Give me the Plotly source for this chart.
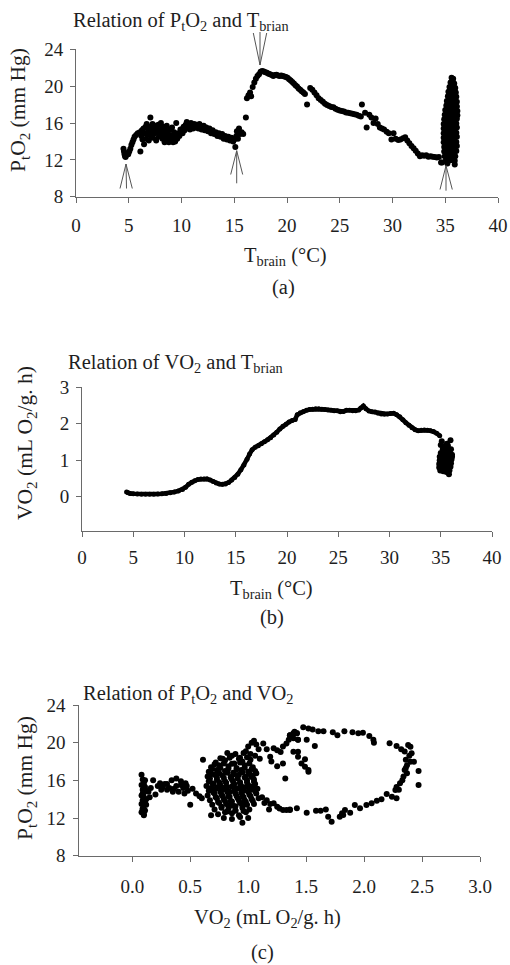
import plotly.graph_objects as go

W, H = 510, 965
FONT = "Liberation Serif"
TXT = "#1e1e1e"
AX = "#6a6a6a"

# ---------------- Panel (a): PtO2 vs Tbrain ----------------
a1_T = [4.5, 4.55, 4.6, 4.65, 4.7, 4.75, 4.85, 4.95, 5.05, 5.15, 5.25, 5.35, 5.45, 5.55, 5.7, 5.85]
a1_P = [13.2, 12.9, 12.6, 12.4, 12.3, 12.5, 12.7, 12.6, 12.9, 13.2, 13.6, 13.9, 14.2, 14.5, 14.7, 14.9]

a2_T = [6.05, 6.1, 6.2, 6.25, 6.3, 6.4, 6.45, 6.5, 6.6, 6.65, 6.7, 6.8, 6.85, 6.9, 7.0,
        7.05, 7.1, 7.2, 7.25, 7.3, 7.4, 7.45, 7.5, 7.6, 7.65, 7.7, 7.8, 7.85, 7.9, 8.0,
        8.05, 8.1, 8.2, 8.25, 8.3, 8.4, 8.45, 8.5, 8.6, 8.65, 8.7, 8.8, 8.85, 8.9, 9.0,
        9.05, 9.1, 9.2, 9.25, 9.3, 9.4, 9.45, 9.5, 9.6, 9.7, 9.8, 9.9]
a2_P = [15.0, 12.9, 14.6, 15.2, 14.2, 15.4, 13.7, 14.9, 15.6, 14.3, 15.9, 14.8, 15.3, 14.1, 15.6,
        16.6, 14.6, 15.1, 15.9, 14.4, 15.3, 14.9, 15.7, 14.1, 15.4, 15.0, 15.8, 14.5, 15.2, 14.7,
        16.0, 15.3, 14.3, 15.6, 14.9, 13.9, 15.2, 14.5, 15.7, 14.2, 15.0, 13.9, 14.7, 15.3, 14.1,
        14.6, 15.5, 13.9, 14.4, 15.0, 14.0, 14.8, 16.0, 14.3, 14.9, 14.6, 15.3]

a3_T = [10.0, 10.1, 10.2, 10.3, 10.4, 10.5, 10.6, 10.7, 10.8, 10.9, 11.0,
        11.1, 11.2, 11.3, 11.4, 11.5, 11.6, 11.7, 11.8, 11.9, 12.0, 12.1, 12.2,
        12.35, 12.5, 12.65, 12.8, 12.95, 13.1, 13.25, 13.4, 13.55, 13.7,
        13.85, 14.0, 14.15, 14.3, 14.45, 14.6, 14.75, 14.9, 15.0, 15.1,
        15.2, 15.25, 15.35, 15.45, 15.55, 15.7, 15.85, 16.1]
a3_P = [15.3, 14.9, 15.6, 15.2, 15.8, 16.1, 15.5, 15.9, 15.3, 16.0, 15.6,
        15.4, 15.9, 15.5, 15.8, 15.7, 15.4, 15.9, 15.6, 15.3, 15.5, 15.7, 15.2,
        15.5, 15.1, 15.4, 14.9, 15.2, 14.8, 15.0, 14.6, 14.9, 14.5,
        14.8, 14.3, 14.6, 14.2, 14.5, 14.1, 14.4, 14.0, 14.2, 13.4,
        14.6, 15.1, 14.3, 15.4, 14.8, 15.0, 14.8, 16.6]

a4_T = [16.2, 16.35, 16.5, 16.6, 16.75, 16.9, 17.05, 17.2, 17.35, 17.5,
        17.65, 17.8, 17.95, 18.1, 18.25, 18.4, 18.55, 18.7, 18.85, 19.0,
        19.15, 19.3, 19.45, 19.6, 19.75, 19.9, 20.05, 20.2, 20.35, 20.5,
        20.65, 20.8, 20.95, 21.1, 21.25, 21.4, 21.55, 21.7, 21.9, 22.2,
        22.4, 22.6, 22.8, 23.0, 23.2, 23.4, 23.6, 23.8, 24.0, 24.2,
        24.4, 24.6, 24.8, 25.0, 25.2, 25.4, 25.6, 25.8, 26.0, 26.2,
        26.4, 26.6, 26.8, 27.0, 27.1, 27.4, 27.55, 27.8, 28.0, 28.2,
        28.4, 28.6, 28.8, 29.0, 29.2, 29.45, 29.65, 29.9, 30.1, 30.3,
        30.55, 30.75, 31.0, 31.2, 31.4, 31.6, 31.8, 32.0, 32.2, 32.4,
        32.6, 32.8, 33.0, 33.2, 33.4, 33.6, 33.8, 34.0, 34.2, 34.4, 34.6]
a4_P = [18.7, 19.0, 19.3, 18.9, 19.9, 20.4, 20.8, 21.1, 21.3, 21.55,
        21.65, 21.6, 21.5, 21.45, 21.35, 21.3, 21.2, 21.1, 21.2, 21.25,
        21.15, 21.1, 21.15, 21.1, 21.05, 21.0, 20.9, 20.75, 20.6, 20.45,
        20.3, 20.1, 19.95, 19.75, 19.6, 19.45, 19.3, 19.15, 18.0, 19.8,
        19.6, 19.3, 19.0, 18.7, 18.5, 18.3, 18.1, 17.95, 17.85, 17.75,
        17.7, 17.55, 17.45, 17.35, 17.3, 17.25, 17.15, 17.1, 17.05, 17.0,
        16.95, 16.9, 16.8, 16.7, 18.0, 17.1, 15.5, 16.9, 16.6, 16.0,
        16.5, 15.9, 15.5, 15.4, 15.3, 15.05, 14.9, 14.2, 14.9, 14.3,
        14.15, 14.2, 14.35, 14.45, 14.1, 13.8, 13.5, 13.25, 13.0, 12.7,
        12.4, 12.5, 12.45, 12.5, 12.35, 12.4, 12.35, 12.3, 12.25, 12.3, 11.7]

acl_T = [35.6, 35.75, 35.5, 35.7, 35.85, 35.4, 35.6, 35.8, 35.95,
         35.3, 35.5, 35.7, 35.9, 36.0, 35.25, 35.45, 35.65, 35.85, 36.05,
         35.15, 35.35, 35.55, 35.75, 35.95, 36.1, 35.1, 35.3, 35.5, 35.7, 35.9, 36.1,
         35.0, 35.2, 35.4, 35.6, 35.8, 36.0, 36.15, 34.95, 35.15, 35.35, 35.55, 35.75, 35.95, 36.15,
         34.9, 35.1, 35.3, 35.5, 35.7, 35.9, 36.1, 34.85, 35.05, 35.25, 35.45, 35.65, 35.85, 36.05,
         34.85, 35.05, 35.25, 35.45, 35.65, 35.85, 36.1, 34.85, 35.05, 35.25, 35.45, 35.65, 35.85, 36.05,
         34.85, 35.05, 35.25, 35.45, 35.65, 35.85, 36.1, 34.85, 35.05, 35.25, 35.45, 35.65, 35.85, 36.05,
         34.9, 35.1, 35.3, 35.5, 35.7, 35.9, 36.1, 34.9, 35.1, 35.3, 35.5, 35.7, 35.9, 36.05,
         34.95, 35.15, 35.35, 35.55, 35.75, 35.95, 35.05, 35.3, 35.5, 35.7, 35.9, 34.7, 35.2, 35.9]
acl_P = [20.9, 20.8, 20.4, 20.5, 20.3, 19.9, 20.0, 19.95, 19.8,
         19.4, 19.6, 19.5, 19.4, 19.3, 18.9, 19.0, 18.95, 19.05, 18.85,
         18.4, 18.5, 18.45, 18.55, 18.4, 18.3, 17.9, 18.0, 17.95, 18.05, 17.9, 17.8,
         17.4, 17.5, 17.45, 17.55, 17.5, 17.4, 17.3, 16.9, 17.0, 16.95, 17.05, 17.0, 16.9, 16.85,
         16.4, 16.5, 16.45, 16.55, 16.5, 16.4, 16.45, 15.9, 16.0, 15.95, 16.05, 16.0, 15.9, 15.95,
         15.4, 15.5, 15.45, 15.55, 15.5, 15.4, 15.5, 14.9, 15.0, 14.95, 15.05, 15.0, 14.9, 14.95,
         14.4, 14.5, 14.45, 14.55, 14.5, 14.4, 14.5, 13.9, 14.0, 13.95, 14.05, 14.0, 13.9, 13.95,
         13.4, 13.5, 13.45, 13.55, 13.5, 13.4, 13.5, 12.9, 13.0, 12.95, 13.05, 13.0, 12.9, 12.95,
         12.4, 12.5, 12.45, 12.55, 12.5, 12.4, 11.9, 12.0, 11.95, 12.05, 11.9, 11.7, 11.6, 11.5]

# ---------------- Panel (b): VO2 vs Tbrain ----------------
b_T = [4.35, 4.5, 4.7, 5.0, 5.4, 5.8, 6.2, 6.6, 7.0, 7.4, 7.8, 8.2, 8.6, 9.0, 9.4,
       9.8, 10.1, 10.4, 10.7, 11.0, 11.3, 11.6, 11.9, 12.2, 12.5, 12.8, 13.1, 13.4, 13.7, 14.0,
       14.3, 14.6, 14.9, 15.2, 15.5, 15.8, 16.1, 16.35, 16.6, 16.9, 17.2, 17.5, 17.8, 18.1, 18.4,
       18.7, 19.0, 19.3, 19.6, 19.9, 20.2, 20.5, 20.8, 21.0, 21.3, 21.6, 21.9, 22.2, 22.5, 22.8,
       23.1, 23.4, 23.7, 24.0, 24.3, 24.6, 24.9, 25.2, 25.5, 25.8, 26.1, 26.4, 26.7, 27.0, 27.2,
       27.45, 27.7, 28.0, 28.3, 28.6, 28.9, 29.2, 29.5, 29.8, 30.1, 30.4, 30.7, 31.0, 31.3, 31.6,
       31.9, 32.2, 32.5, 32.8, 33.1, 33.4, 33.7, 34.0, 34.3, 34.6, 34.9]
b_V = [0.13, 0.11, 0.09, 0.08, 0.075, 0.07, 0.07, 0.07, 0.07, 0.075, 0.08, 0.09, 0.11, 0.13, 0.16,
       0.2, 0.26, 0.34, 0.40, 0.44, 0.47, 0.485, 0.49, 0.49, 0.46, 0.42, 0.38, 0.35, 0.34, 0.35,
       0.39, 0.46, 0.53, 0.62, 0.74, 0.87, 1.03, 1.17, 1.29, 1.36, 1.4, 1.45, 1.51, 1.56, 1.62,
       1.69, 1.77, 1.86, 1.93, 1.99, 2.05, 2.09, 2.12, 2.25, 2.3, 2.34, 2.37, 2.39, 2.4, 2.41,
       2.41, 2.4, 2.39, 2.38, 2.37, 2.36, 2.36, 2.33, 2.34, 2.37, 2.37, 2.36, 2.36, 2.38, 2.43,
       2.49, 2.41, 2.35, 2.33, 2.32, 2.29, 2.27, 2.26, 2.27, 2.28, 2.29, 2.25, 2.19, 2.11, 2.03,
       1.96, 1.89, 1.84, 1.81, 1.82, 1.83, 1.82, 1.81, 1.79, 1.74, 1.67]

bcl_T = [35.1, 35.6, 35.95, 35.0, 35.3, 35.7, 35.2, 35.5, 35.8, 36.0,
         35.0, 35.3, 35.6, 35.9, 36.1, 34.9, 35.2, 35.5, 35.8, 36.1,
         34.9, 35.15, 35.45, 35.75, 36.05, 34.85, 35.1, 35.4, 35.7, 36.0,
         34.85, 35.1, 35.4, 35.7, 35.95, 34.95, 35.25, 35.55, 35.85, 35.8]
bcl_V = [1.52, 1.45, 1.55, 1.42, 1.38, 1.4, 1.3, 1.32, 1.28, 1.3,
         1.2, 1.22, 1.18, 1.2, 1.15, 1.1, 1.12, 1.08, 1.1, 1.1,
         1.0, 1.02, 0.98, 1.0, 1.02, 0.9, 0.92, 0.88, 0.9, 0.92,
         0.8, 0.82, 0.78, 0.8, 0.82, 0.72, 0.7, 0.68, 0.72, 0.62]

# ---------------- Panel (c): PtO2 vs VO2 ----------------
c1_V = [0.08, 0.09, 0.1, 0.08, 0.11, 0.09, 0.1, 0.12, 0.08, 0.1, 0.09, 0.11, 0.08,
        0.1, 0.12, 0.09, 0.11, 0.08, 0.1, 0.09, 0.12, 0.1, 0.11, 0.09, 0.1]
c1_P = [16.6, 16.1, 15.8, 15.5, 15.3, 15.0, 14.7, 14.9, 14.4, 14.2, 13.9, 13.7, 13.5,
        13.3, 14.0, 13.0, 12.8, 12.6, 12.4, 12.9, 13.4, 15.5, 16.0, 14.6, 12.3]

c2_V = [0.14, 0.16, 0.18, 0.2, 0.22, 0.24, 0.26, 0.28, 0.3, 0.32, 0.34, 0.36, 0.38, 0.4, 0.42,
        0.44, 0.46, 0.48, 0.5, 0.52, 0.55, 0.58, 0.6, 0.15, 0.25, 0.35, 0.38, 0.42, 0.45, 0.47,
        0.3, 0.61]
c2_P = [14.8, 15.2, 16.0, 14.5, 15.4, 15.7, 15.3, 15.6, 15.6, 15.2, 16.0, 15.1, 15.4, 14.8, 15.5,
        15.2, 15.7, 14.9, 13.4, 15.1, 14.6, 14.3, 14.1, 14.2, 15.0, 14.8, 16.2, 15.9, 14.6, 15.4,
        15.0, 18.2]

c3_V = [0.78, 0.86, 0.93, 0.72, 0.80, 0.88, 0.95, 1.02, 0.68, 0.75, 0.83, 0.90, 0.97, 1.04,
        0.66, 0.73, 0.80, 0.87, 0.94, 1.00, 1.06, 0.65, 0.71, 0.78, 0.85, 0.92, 0.98, 1.04,
        0.66, 0.73, 0.80, 0.86, 0.93, 0.99, 1.05, 0.64, 0.70, 0.76, 0.82, 0.88, 0.94, 1.00, 1.06,
        0.66, 0.72, 0.78, 0.84, 0.90, 0.96, 1.02, 1.08, 0.65, 0.71, 0.77, 0.83, 0.89, 0.95, 1.01, 1.07,
        0.67, 0.73, 0.79, 0.85, 0.91, 0.97, 1.03, 1.09, 0.69, 0.75, 0.81, 0.87, 0.93, 0.99, 1.05,
        0.71, 0.77, 0.83, 0.89, 0.95, 1.01, 0.74, 0.80, 0.86, 0.92, 0.98, 0.79, 0.86, 0.93, 1.00,
        0.95, 0.68]
c3_P = [18.3, 18.6, 18.4, 17.9, 18.1, 17.8, 18.0, 18.2, 17.4, 17.6, 17.5, 17.3, 17.6, 17.4,
        16.9, 17.1, 17.0, 16.8, 17.1, 16.9, 17.0, 16.4, 16.6, 16.5, 16.3, 16.6, 16.4, 16.5,
        15.9, 16.1, 15.9, 16.1, 15.8, 16.0, 16.1, 15.4, 15.6, 15.5, 15.3, 15.6, 15.4, 15.5, 15.6,
        14.9, 15.1, 15.0, 14.8, 15.1, 14.9, 15.0, 15.1, 14.4, 14.6, 14.5, 14.3, 14.6, 14.4, 14.5, 14.6,
        13.9, 14.1, 14.0, 13.8, 14.1, 13.9, 14.0, 14.1, 13.4, 13.6, 13.5, 13.3, 13.6, 13.4, 13.5,
        12.9, 13.1, 13.0, 12.8, 13.1, 12.9, 12.4, 12.6, 12.5, 12.3, 12.6, 12.0, 11.9, 12.1, 12.0,
        11.5, 12.3]

# second, offset set of readings inside the dense cluster of panel (c)
c3c_V = [0.82, 0.89, 0.76, 0.84, 0.92, 0.99, 0.71, 0.79, 0.86, 0.93, 1.01, 0.69, 0.76, 0.83, 0.9,
         0.97, 1.03, 0.68, 0.75, 0.82, 0.88, 0.95, 1.01, 1.07, 0.67, 0.73, 0.79, 0.85, 0.91, 0.97,
         1.03, 0.69, 0.75, 0.81, 0.87, 0.93, 0.99, 1.05, 0.68, 0.74, 0.8, 0.86, 0.92, 0.98, 1.04,
         0.7, 0.76, 0.82, 0.88, 0.94, 1.0, 1.06, 0.72, 0.78, 0.84, 0.9, 0.96, 1.02, 0.74, 0.8,
         0.86, 0.92, 0.98, 1.04, 0.77, 0.83, 0.89, 0.95, 0.82, 0.89, 0.96]
c3c_P = [18.9, 18.8, 18.35, 18.4, 18.3, 18.45, 17.7, 17.8, 17.75, 17.9, 17.8, 17.2, 17.3, 17.25,
         17.15, 17.35, 17.2, 16.7, 16.75, 16.8, 16.65, 16.85, 16.7, 16.75, 16.2, 16.3, 16.25, 16.35,
         16.2, 16.3, 16.35, 15.7, 15.8, 15.75, 15.85, 15.7, 15.8, 15.85, 15.2, 15.3, 15.25, 15.35,
         15.2, 15.3, 15.35, 14.7, 14.8, 14.75, 14.85, 14.7, 14.8, 14.85, 14.2, 14.3, 14.25, 14.35,
         14.2, 14.3, 13.7, 13.8, 13.75, 13.85, 13.7, 13.8, 13.2, 13.3, 13.25, 13.35, 12.7, 12.8, 12.75]

c3b_V = [0.98, 1.0, 1.03, 1.05, 1.07, 1.02, 1.06, 1.09, 0.96, 1.10]
c3b_P = [19.1, 19.6, 20.0, 20.2, 19.8, 18.8, 18.6, 19.3, 18.9, 18.3]

c4_V = [1.13, 1.16, 1.19, 1.22, 1.25, 1.28, 1.30, 1.33, 1.35, 1.36, 1.39, 1.40, 1.42, 1.39, 1.43,
        1.30, 1.32, 1.20, 1.25, 1.12, 1.16, 1.19, 1.22, 1.25, 1.27, 1.30, 1.33, 1.36, 1.14, 1.18]
c4_P = [19.9, 19.3, 18.5, 19.4, 19.2, 19.0, 19.6, 19.9, 20.3, 20.8, 21.0, 21.16, 21.0, 20.46, 20.3,
        17.8, 16.2, 18.0, 17.5, 14.2, 13.9, 13.5, 13.56, 13.2, 13.0, 12.85, 12.85, 12.9, 13.6, 12.9]

c5_V = [1.475, 1.52, 1.556, 1.605, 1.65, 1.73, 1.77, 1.83, 1.90, 1.95, 1.99, 2.045, 2.08, 2.085,
        2.22, 2.28, 2.32, 2.35, 2.38, 2.40, 2.41, 2.43, 2.47, 2.47, 2.40, 2.37, 2.35, 2.37, 2.34,
        2.31, 2.28, 2.27, 2.28, 2.24, 2.195, 2.15, 2.11, 2.065, 2.02, 1.965, 1.92, 1.88, 1.835,
        1.82, 1.79, 1.81, 1.72, 1.69, 1.67, 1.625, 1.585, 1.505, 1.42, 1.36,
        2.36, 2.39, 2.33, 2.30, 2.36]
c5_P = [21.63, 21.5, 21.4, 21.2, 21.2, 21.1, 20.8, 21.2, 21.1, 21.0, 21.06, 20.7, 20.3, 20.0,
        19.93, 19.65, 19.3, 19.05, 19.75, 19.57, 18.87, 17.98, 17.0, 15.5, 17.98, 17.6, 17.1, 16.75, 16.4,
        15.7, 15.3, 14.97, 14.1, 14.26, 14.55, 13.99, 13.84, 13.56, 13.38, 13.03, 13.38, 12.56, 12.85,
        12.32, 12.14, 12.5, 11.6, 12.14, 12.9, 12.78, 12.78, 12.56, 13.03, 12.85,
        18.2, 18.6, 16.0, 15.0, 17.3]

c6_V = [1.42, 1.43, 1.505, 1.575, 1.39, 1.43, 1.43, 1.46, 1.49, 1.49, 1.52, 1.52, 1.36]
c6_P = [21.0, 20.3, 20.3, 19.65, 19.04, 19.04, 18.5, 17.8, 18.23, 17.45, 17.1, 16.9, 20.8]

# tick labels
a_xticks = [0, 5, 10, 15, 20, 25, 30, 35, 40]
a_yticks = [8, 12, 16, 20, 24]
b_yticks = [0, 1, 2, 3]
c_xticks = [0.0, 0.5, 1.0, 1.5, 2.0, 2.5, 3.0]

fig = go.Figure()


def add_pts(xs, ys, xa, ya, size=6):
    fig.add_trace(go.Scatter(x=xs, y=ys, mode="markers", xaxis=xa, yaxis=ya,
                             marker=dict(color="black", size=size, line=dict(width=0)),
                             showlegend=False, hoverinfo="skip"))


for xs, ys in [(a1_T, a1_P), (a2_T, a2_P), (a3_T, a3_P), (a4_T, a4_P), (acl_T, acl_P)]:
    add_pts(xs, ys, "x", "y")

fig.add_trace(go.Scatter(x=b_T, y=b_V, mode="lines+markers", xaxis="x2", yaxis="y2",
                         line=dict(color="black", width=4.5), marker=dict(color="black", size=5),
                         showlegend=False, hoverinfo="skip"))
add_pts(bcl_T, bcl_V, "x2", "y2", size=6)

for xs, ys in [(c1_V, c1_P), (c2_V, c2_P), (c3_V, c3_P), (c3c_V, c3c_P), (c3b_V, c3b_P),
               (c4_V, c4_P), (c5_V, c5_P), (c6_V, c6_P)]:
    add_pts(xs, ys, "x3", "y3")


def px(x):
    return x / W


def py(y):
    return 1 - y / H


tickfont = dict(family=FONT, size=19, color=TXT)
common = dict(showline=True, linecolor=AX, linewidth=1, ticks="outside", ticklen=5,
              tickcolor=AX, tickwidth=1, showgrid=False, zeroline=False, tickfont=tickfont,
              fixedrange=True, automargin=False)

fig.update_layout(
    width=W, height=H, autosize=False,
    margin=dict(l=0, r=0, t=0, b=0, pad=0, autoexpand=False),
    paper_bgcolor="white", plot_bgcolor="white", showlegend=False,
    xaxis=dict(domain=[px(76), px(498)], range=[0, 40], tickvals=a_xticks, anchor="y",
               ticklabelstandoff=6, **common),
    yaxis=dict(domain=[py(196.7), py(49.3)], range=[8, 24], tickvals=a_yticks, anchor="x",
               ticklabelstandoff=3, **common),
    xaxis2=dict(domain=[px(82), px(492)], range=[0, 40], tickvals=a_xticks, anchor="y2",
                ticklabelstandoff=4, **common),
    yaxis2=dict(domain=[py(530.7), py(387.3)], range=[-0.93, 3], tickvals=b_yticks, anchor="x2",
                ticklabelstandoff=3, **common),
    xaxis3=dict(domain=[px(79.3), px(480)], range=[-0.457, 3.0], tickvals=c_xticks,
                tickformat=".1f", anchor="y3", ticklabelstandoff=8, **common),
    yaxis3=dict(domain=[py(855.7), py(705)], range=[8, 24], tickvals=a_yticks, anchor="x3",
                ticklabelstandoff=4, **common),
)

tf = dict(family=FONT, size=20.5, color=TXT)
tfy = dict(family=FONT, size=21.5, color=TXT)
ann = [
    ("Relation of P<sub>t</sub>O<sub>2</sub> and T<sub>brian</sub>", 71, 22, "left", 0, tf),
    ("P<sub>t</sub>O<sub>2</sub> (mm Hg)", 20, 110, "center", -90, tfy),
    ("T<sub>brain</sub> (°C)", 285, 257, "center", 0, tf),
    ("(a)", 283, 287, "center", 0, tf),
    ("Relation of VO<sub>2</sub> and T<sub>brian</sub>", 66, 363, "left", 0, tf),
    ("VO<sub>2</sub> (mL O<sub>2</sub>/g. h)", 26, 443, "center", -90, tfy),
    ("T<sub>brain</sub> (°C)", 271, 589, "center", 0, tf),
    ("(b)", 272, 617, "center", 0, tf),
    ("Relation of P<sub>t</sub>O<sub>2</sub> and VO<sub>2</sub>", 81, 694, "left", 0, tf),
    ("P<sub>t</sub>O<sub>2</sub> (mm Hg)", 26, 778, "center", -90, tfy),
    ("VO<sub>2</sub> (mL O<sub>2</sub>/g. h)", 267, 918, "center", 0, tf),
    ("(c)", 262, 952, "center", 0, tf),
]
for text, x, y, xa, ang, f in ann:
    fig.add_annotation(text=text, x=px(x), y=py(y), xref="paper", yref="paper",
                       xanchor=xa, yanchor="middle", showarrow=False, font=f, textangle=ang)

# open V-shaped arrows marking transitions in panel (a)
arrows = [
    ((126, 164), (126.5, 188.5), (120, 188.5), (132.3, 188.5)),
    ((236.7, 150.7), (236.7, 183.3), (230.7, 174.5), (242.7, 174.5)),
    ((446, 165.7), (446, 190.7), (440, 189.5), (452.3, 189.5)),
    ((260, 65), (260, 32), (253.3, 33), (266.7, 33)),
]
for tip, base, left, right in arrows:
    for end in (base, left, right):
        fig.add_shape(type="line", xref="paper", yref="paper",
                      x0=px(tip[0]), y0=py(tip[1]), x1=px(end[0]), y1=py(end[1]),
                      line=dict(color="#555555", width=1))

# remove the page's default body margin so the 510x965 figure fills the window exactly
fig.write_html("out.html", config={"displayModeBar": False, "staticPlot": True},
               post_script="document.body.style.margin='0px';")
